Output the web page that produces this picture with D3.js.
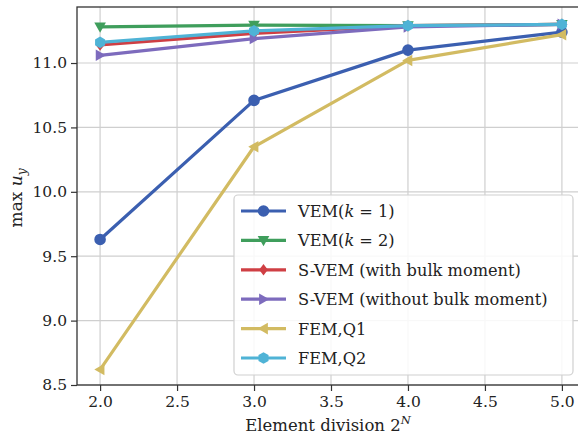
<!DOCTYPE html>
<html>
<head>
<meta charset="utf-8">
<script src="https://cdn.jsdelivr.net/npm/d3@7"></script>
<style>
  html, body { margin: 0; padding: 0; background: #fff; }
  svg { display: block; }
  text { font-family: "DejaVu Serif", "Liberation Serif", serif; fill: #222; }
</style>
</head>
<body>
<svg id="chart" width="578" height="438"></svg>
<script>
// Mesh refinement levels (element division 2^N)
const divisions = [2.0, 3.0, 4.0, 5.0];

// max u_y for each method
const vemK1      = [9.63, 10.71, 11.10, 11.24];
const vemK2      = [11.28, 11.295, 11.29, 11.30];
const svemBulk   = [11.14, 11.23, 11.29, 11.30];
const svemNoBulk = [11.06, 11.19, 11.28, 11.30];
const femQ1      = [8.62, 10.35, 11.02, 11.22];
const femQ2      = [11.16, 11.25, 11.29, 11.30];

const seriesNames = [
  "VEM(k = 1)", "VEM(k = 2)", "S-VEM (with bulk moment)",
  "S-VEM (without bulk moment)", "FEM,Q1", "FEM,Q2"
];
const xTicks = [2.0, 2.5, 3.0, 3.5, 4.0, 4.5, 5.0];
const yTicks = [8.5, 9.0, 9.5, 10.0, 10.5, 11.0];

const series = [
  { name: seriesNames[0], values: vemK1,      color: "#3b5fb0", marker: "circle" },
  { name: seriesNames[1], values: vemK2,      color: "#3f9e5c", marker: "tri-down" },
  { name: seriesNames[2], values: svemBulk,   color: "#cf3f44", marker: "diamond" },
  { name: seriesNames[3], values: svemNoBulk, color: "#7d6bbd", marker: "tri-right" },
  { name: seriesNames[4], values: femQ1,      color: "#d2bb62", marker: "tri-left" },
  { name: seriesNames[5], values: femQ2,      color: "#4fb3d6", marker: "hexagon" }
];

const FONT = "'DejaVu Serif', 'Liberation Serif', serif";
const svg = d3.select("#chart");
const x = d3.scaleLinear().domain([1.85, 5.15]).range([77, 585]);
const y = d3.scaleLinear().domain([8.5, 11.435]).range([385, 7]);

const plotL = 77, plotR = 585, plotT = 7, plotB = 385;

// grid
const grid = svg.append("g");
grid.selectAll("line.gx").data(xTicks).join("line")
  .attr("x1", d => x(d)).attr("x2", d => x(d))
  .attr("y1", plotT).attr("y2", plotB)
  .attr("stroke", "#cfcfcf").attr("stroke-width", 1.2);
grid.selectAll("line.gy").data(yTicks).join("line")
  .attr("x1", plotL).attr("x2", plotR)
  .attr("y1", d => y(d)).attr("y2", d => y(d))
  .attr("stroke", "#cfcfcf").attr("stroke-width", 1.2);

// marker shapes
function markerPath(kind, r) {
  switch (kind) {
    case "circle": return d3.symbol(d3.symbolCircle, Math.PI * r * r)();
    case "diamond": return `M0,${-r}L${r*0.75},0L0,${r}L${-r*0.75},0Z`;
    case "tri-down": return `M${-r},${-r*0.75}L${r},${-r*0.75}L0,${r}Z`;
    case "tri-right": return `M${r},0L${-r*0.75},${-r}L${-r*0.75},${r}Z`;
    case "tri-left": return `M${-r},0L${r*0.75},${-r}L${r*0.75},${r}Z`;
    case "hexagon": {
      const pts = d3.range(6).map(i => {
        const a = Math.PI / 3 * i + Math.PI / 6;
        return [r * Math.cos(a), r * Math.sin(a)];
      });
      return "M" + pts.map(p => p.join(",")).join("L") + "Z";
    }
  }
}

const line = d3.line().x((d, i) => x(divisions[i])).y(d => y(d));
const plot = svg.append("g");
series.forEach(s => {
  const g = plot.append("g");
  g.append("path").attr("d", line(s.values))
    .attr("fill", "none").attr("stroke", s.color)
    .attr("stroke-width", 3.2).attr("stroke-linejoin", "round").attr("stroke-linecap", "round");
  g.selectAll("path.m").data(s.values).join("path")
    .attr("transform", (d, i) => `translate(${x(divisions[i])},${y(d)})`)
    .attr("d", markerPath(s.marker, 5.8))
    .attr("fill", s.color);
});

// axes
const xAxis = d3.axisBottom(x).tickValues(xTicks).tickFormat(d3.format(".1f")).tickSize(6).tickPadding(5);
const yAxis = d3.axisLeft(y).tickValues(yTicks).tickFormat(d3.format(".1f")).tickSize(6).tickPadding(4);

const gx = svg.append("g").attr("transform", `translate(0,${plotB})`).call(xAxis);
const gy = svg.append("g").attr("transform", `translate(${plotL},0)`).call(yAxis);
[gx, gy].forEach(g => {
  g.attr("font-family", FONT);
  g.select(".domain").remove();
  g.selectAll(".tick line").attr("stroke", "#333").attr("stroke-width", 1.2);
  g.selectAll(".tick text").attr("font-size", 15.5).attr("fill", "#222")
    .style("font-family", FONT);
});

// spines
svg.append("rect").attr("x", plotL).attr("y", plotT)
  .attr("width", plotR - plotL).attr("height", plotB - plotT)
  .attr("fill", "none").attr("stroke", "#333").attr("stroke-width", 1.3);

// axis labels
const xl = svg.append("text").attr("x", 328).attr("y", 431)
  .attr("text-anchor", "middle").attr("font-size", 16.5).style("font-family", FONT);
xl.append("tspan").text("Element division 2");
xl.append("tspan").attr("font-style", "italic").attr("font-size", 11.5).attr("dy", -7).text("N");

const yl = svg.append("text")
  .attr("transform", "translate(22,198) rotate(-90)")
  .attr("text-anchor", "middle").attr("font-size", 17).style("font-family", FONT);
yl.append("tspan").text("max ");
yl.append("tspan").attr("font-style", "italic").text("u");
yl.append("tspan").attr("font-style", "italic").attr("font-size", 12).attr("dy", 4).text("y");

// legend
const lg = svg.append("g");
lg.append("rect").attr("x", 234).attr("y", 195).attr("width", 339).attr("height", 180)
  .attr("rx", 4).attr("fill", "#fff").attr("fill-opacity", 0.85)
  .attr("stroke", "#d0d0d0").attr("stroke-width", 1.2);
series.forEach((s, i) => {
  const cy = 211 + i * 29.4;
  lg.append("line").attr("x1", 241).attr("x2", 286).attr("y1", cy).attr("y2", cy)
    .attr("stroke", s.color).attr("stroke-width", 3.2);
  lg.append("path").attr("transform", `translate(263.5,${cy})`)
    .attr("d", markerPath(s.marker, 5.8)).attr("fill", s.color);
  const t = lg.append("text").attr("x", 298).attr("y", cy + 6).attr("font-size", 16.2)
    .style("font-family", FONT);
  if (i === 0 || i === 1) {
    t.append("tspan").text("VEM(");
    t.append("tspan").attr("font-style", "italic").text("k");
    t.append("tspan").text(i === 0 ? " = 1)" : " = 2)");
  } else {
    t.text(s.name);
  }
});
</script>
</body>
</html>
